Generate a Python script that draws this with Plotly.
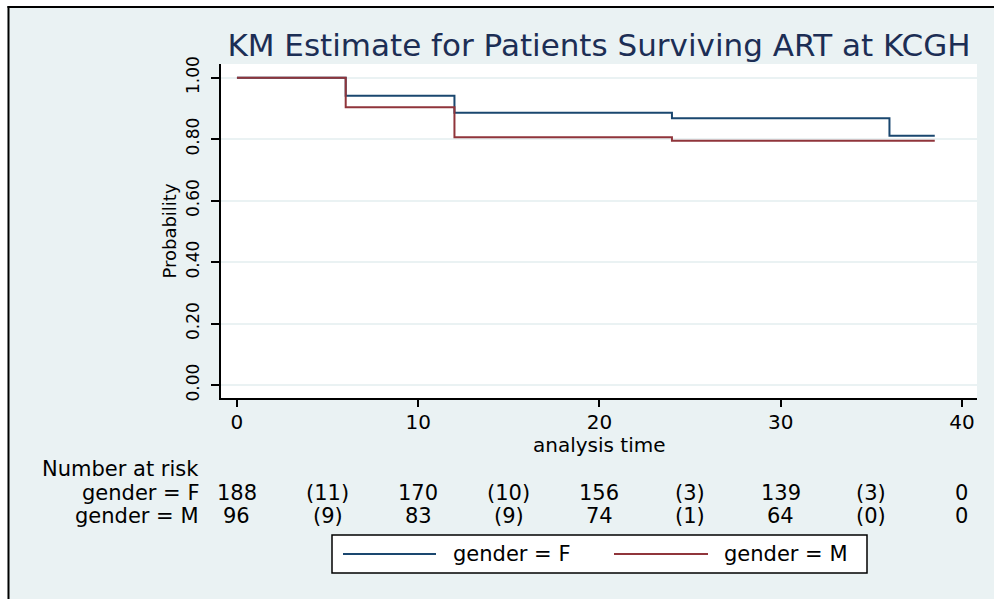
import plotly.graph_objects as go

# ---- data ----
times_F = [0, 6, 12, 24, 36, 38.5]
surv_F = [1.0, 0.941, 0.886, 0.868, 0.811, 0.811]
times_M = [0, 6, 12, 24, 38.5]
surv_M = [1.0, 0.904, 0.806, 0.795, 0.795]

risk_times = [0, 5, 10, 15, 20, 25, 30, 35, 40]
risk_F = ["188", "(11)", "170", "(10)", "156", "(3)", "139", "(3)", "0"]
risk_M = ["96", "(9)", "83", "(9)", "74", "(1)", "64", "(0)", "0"]

x_ticks = [0, 10, 20, 30, 40]
y_ticks = [0.0, 0.2, 0.4, 0.6, 0.8, 1.0]

names = ["gender = F", "gender = M"]
colors = ["#1a476f", "#90353b"]

# ---- layout geometry (pixels) ----
W, H = 994, 599
L, R, T, B = 221, 977, 64, 398
PW, PH = R - L, B - T


def px(x):
    return (x - L) / PW


def py(y):
    return (B - y) / PH


FONT = "DejaVu Sans"
BG = "#EAF2F3"
TS = 21  # table / legend text size

fig = go.Figure()
fig.add_trace(go.Scatter(x=times_F, y=surv_F, mode="lines", line=dict(shape="hv", color=colors[0], width=2),
                         name=names[0], showlegend=False))
fig.add_trace(go.Scatter(x=times_M, y=surv_M, mode="lines", line=dict(shape="hv", color=colors[1], width=2),
                         name=names[1], showlegend=False))

fig.update_layout(
    width=W, height=H,
    margin=dict(l=L, r=W - R, t=T, b=H - B, pad=0),
    paper_bgcolor=BG, plot_bgcolor="white",
    font=dict(family=FONT, color="black", size=20),
    title=dict(text="KM Estimate for Patients Surviving ART at KCGH",
               font=dict(family=FONT, size=31, color="#1c2e55"),
               x=px((L + R) / 2), xanchor="center", xref="paper",
               y=1 - 45 / H, yanchor="middle", yref="container"),
    showlegend=False,
)

fig.update_xaxes(range=[-0.88, 40.83], tickvals=x_ticks, ticks="outside", ticklen=7, tickwidth=1.5,
                 tickcolor="black", showline=True, linecolor="black", linewidth=1.5, showgrid=False,
                 zeroline=False, tickfont=dict(size=20), ticklabelstandoff=-2)
fig.update_yaxes(range=[-0.0417, 1.0446], tickvals=y_ticks, tickformat=".2f", tickangle=-90,
                 ticks="outside", ticklen=8, tickwidth=1.5, tickcolor="black", showline=True,
                 linecolor="black", linewidth=1.5, showgrid=True, gridcolor=BG, gridwidth=1.5,
                 zeroline=False, tickfont=dict(size=17), ticklabelstandoff=5,
                 title=dict(text="Probability", font=dict(size=18), standoff=2))

fig.add_annotation(text="analysis time", xref="paper", yref="paper", x=0.5, y=py(445),
                   xanchor="center", yanchor="middle", showarrow=False, font=dict(size=20))

# number at risk table
fig.add_annotation(text="Number at risk", xref="paper", yref="paper", x=px(201), y=py(469),
                   xanchor="right", yanchor="middle", showarrow=False, font=dict(size=TS))
for lab, row, yy in [(names[0], risk_F, 493), (names[1], risk_M, 516)]:
    fig.add_annotation(text=lab, xref="paper", yref="paper", x=px(201), y=py(yy),
                       xanchor="right", yanchor="middle", showarrow=False, font=dict(size=TS))
    for t, v in zip(risk_times, row):
        fig.add_annotation(text=v, xref="x", yref="paper", x=t, y=py(yy),
                           xanchor="center", yanchor="middle", showarrow=False, font=dict(size=TS))

# legend (drawn manually to match long sample lines)
shapes = [
    dict(type="rect", xref="paper", yref="paper", x0=px(332), x1=px(867), y0=py(573), y1=py(535),
         fillcolor="white", line=dict(color="black", width=1.5)),
    dict(type="line", xref="paper", yref="paper", x0=px(343), x1=px(436), y0=py(554), y1=py(554),
         line=dict(color=colors[0], width=2)),
    dict(type="line", xref="paper", yref="paper", x0=px(614), x1=px(708), y0=py(554), y1=py(554),
         line=dict(color=colors[1], width=2)),
    # outer frame (image is cropped: white strip outside a black border)
    dict(type="rect", xref="paper", yref="paper", x0=px(-20), x1=px(7.5), y0=py(H + 20), y1=py(-20),
         fillcolor="white", line=dict(width=0)),
    dict(type="rect", xref="paper", yref="paper", x0=px(-20), x1=px(W + 20), y0=py(6), y1=py(-20),
         fillcolor="white", line=dict(width=0)),
    dict(type="line", xref="paper", yref="paper", x0=px(8.5), x1=px(8.5), y0=py(6), y1=py(H + 20),
         line=dict(color="black", width=2)),
    dict(type="line", xref="paper", yref="paper", x0=px(7.5), x1=px(W + 20), y0=py(7), y1=py(7),
         line=dict(color="black", width=2)),
]
fig.update_layout(shapes=shapes)
fig.add_annotation(text=names[0], xref="paper", yref="paper", x=px(451), y=py(554),
                   xanchor="left", yanchor="middle", showarrow=False, font=dict(size=TS))
fig.add_annotation(text=names[1], xref="paper", yref="paper", x=px(722), y=py(554),
                   xanchor="left", yanchor="middle", showarrow=False, font=dict(size=TS))

fig.write_html("out.html", config={"displayModeBar": False},
               post_script="document.body.style.margin='0px';")
